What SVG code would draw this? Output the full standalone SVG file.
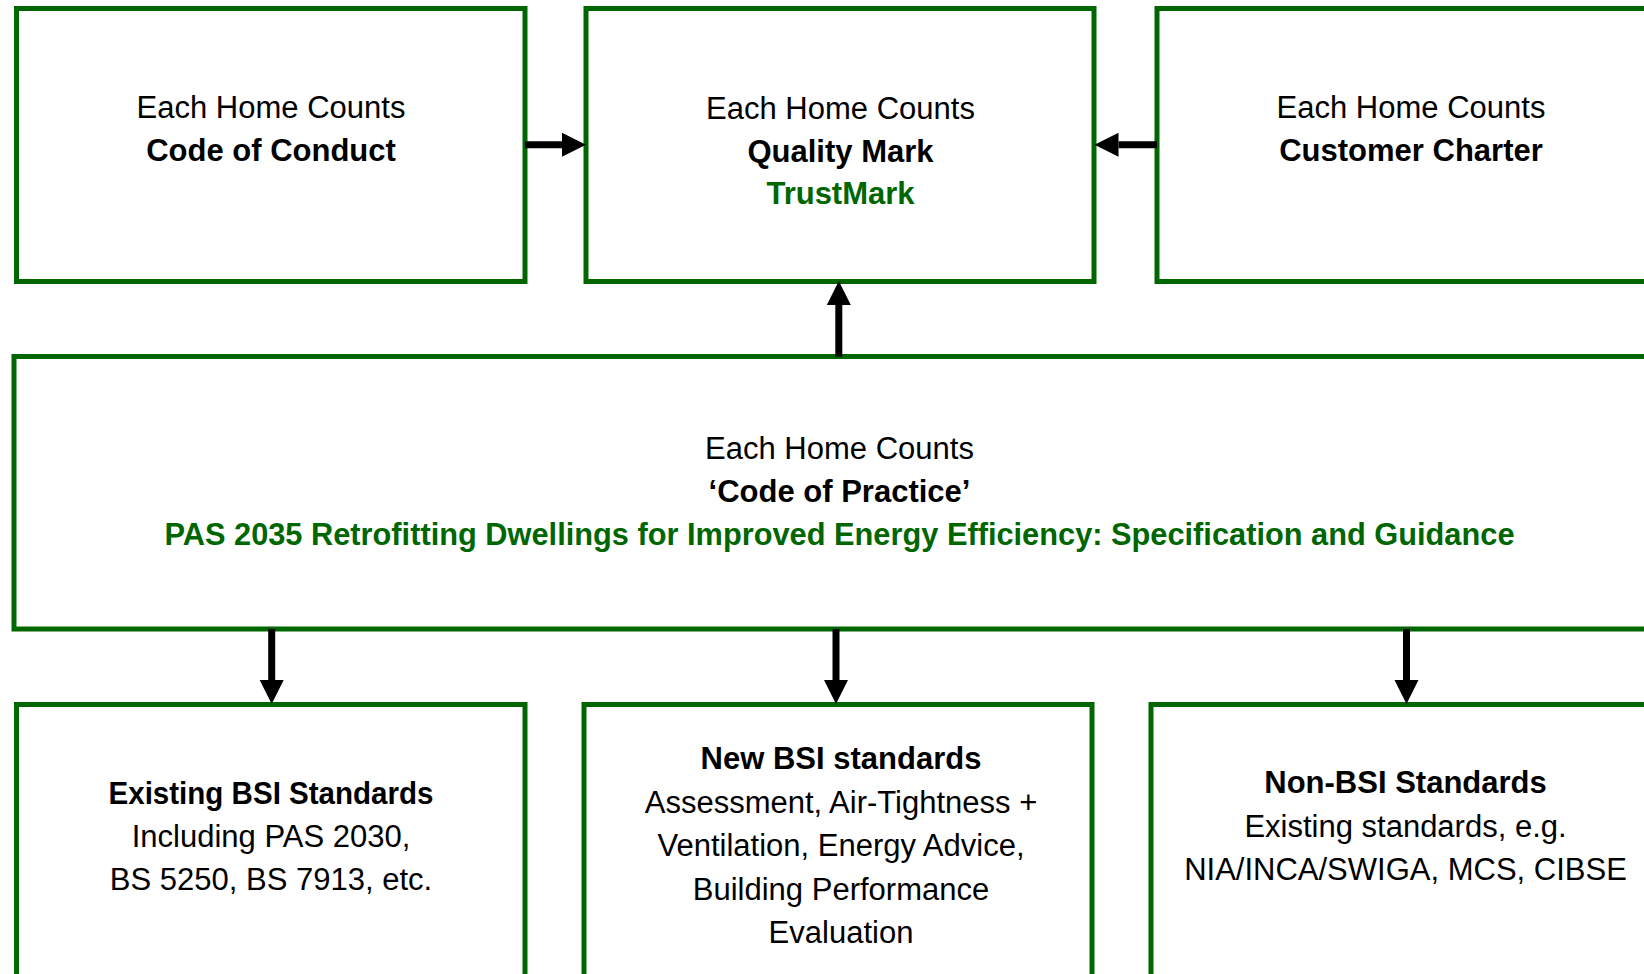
<svg xmlns="http://www.w3.org/2000/svg" width="1644" height="974" viewBox="0 0 1644 974">
  <style>
    .box { fill: #ffffff; stroke: #006600; stroke-width: 5; }
    text { font-family: "Liberation Sans", Arial, sans-serif; font-size: 31px; fill: #000000; text-anchor: middle; }
    .b { font-weight: bold; }
    .g { font-weight: bold; fill: #006600; }
    .link { stroke: #000000; stroke-width: 7; fill: none; marker-end: url(#head); }
  </style>
  <defs>
    <marker id="head" markerUnits="userSpaceOnUse" markerWidth="24" markerHeight="24" refX="0" refY="12" orient="auto" overflow="visible">
      <path d="M0,0 L24,12 L0,24 z" fill="#000000"/>
    </marker>
  </defs>
  <rect width="1644" height="974" fill="#ffffff"/>

  <g id="code-of-conduct">
    <rect class="box" x="16.5" y="8.5" width="508.5" height="273"/>
    <text x="271" y="118">Each Home Counts</text>
    <text x="271" y="161" class="b">Code of Conduct</text>
  </g>

  <g id="quality-mark">
    <rect class="box" x="586" y="8.5" width="508" height="273"/>
    <text x="840.5" y="119">Each Home Counts</text>
    <text x="840.5" y="162" class="b">Quality Mark</text>
    <text x="840.5" y="204" class="g">TrustMark</text>
  </g>

  <g id="customer-charter">
    <rect class="box" x="1157" y="8.5" width="510" height="273"/>
    <text x="1411" y="118">Each Home Counts</text>
    <text x="1411" y="161" class="b">Customer Charter</text>
  </g>

  <g id="code-of-practice">
    <rect class="box" x="14" y="356.5" width="1660" height="272.5"/>
    <text x="839.5" y="459">Each Home Counts</text>
    <text x="839.5" y="502" class="b">‘Code of Practice’</text>
    <text x="839.5" y="545" class="g" textLength="1350" lengthAdjust="spacingAndGlyphs">PAS 2035 Retrofitting Dwellings for Improved Energy Efficiency: Specification and Guidance</text>
  </g>

  <g id="existing-bsi">
    <rect class="box" x="16.5" y="704.5" width="508.5" height="290"/>
    <text x="271" y="804" class="b" textLength="325" lengthAdjust="spacingAndGlyphs">Existing BSI Standards</text>
    <text x="271" y="847">Including PAS 2030,</text>
    <text x="271" y="890">BS 5250, BS 7913, etc.</text>
  </g>

  <g id="new-bsi">
    <rect class="box" x="584" y="704.5" width="508" height="290"/>
    <text x="841" y="769" class="b">New BSI standards</text>
    <text x="841" y="812.5">Assessment, Air-Tightness +</text>
    <text x="841" y="856">Ventilation, Energy Advice,</text>
    <text x="841" y="899.5">Building Performance</text>
    <text x="841" y="943">Evaluation</text>
  </g>

  <g id="non-bsi">
    <rect class="box" x="1151" y="704.5" width="520" height="290"/>
    <text x="1405.5" y="793" class="b">Non-BSI Standards</text>
    <text x="1405.5" y="836.5">Existing standards, e.g.</text>
    <text x="1405.5" y="880">NIA/INCA/SWIGA, MCS, CIBSE</text>
  </g>

  <g id="connectors">
    <line class="link" x1="525" y1="144.7" x2="562" y2="144.7"/>
    <line class="link" x1="1157" y1="144.7" x2="1118.5" y2="144.7"/>
    <line class="link" x1="838.8" y1="356.5" x2="838.8" y2="305"/>
    <line class="link" x1="271.7" y1="629" x2="271.7" y2="680"/>
    <line class="link" x1="836" y1="629" x2="836" y2="680"/>
    <line class="link" x1="1406.5" y1="629" x2="1406.5" y2="680"/>
  </g>
</svg>
